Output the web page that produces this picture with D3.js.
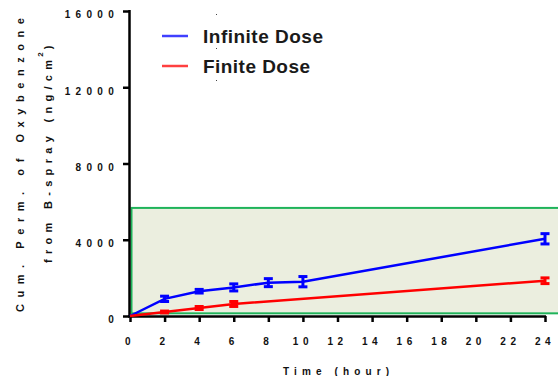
<!DOCTYPE html>
<html>
<head>
<meta charset="utf-8">
<script src="https://cdn.jsdelivr.net/npm/d3@7"></script>
<style>
  html, body { margin: 0; padding: 0; background: #fff; }
  svg { display: block; }
</style>
</head>
<body>
<svg id="chart" width="558" height="376"></svg>
<script>
// Cumulative permeation of oxybenzone from B-spray
const infTimes = [0, 2, 4, 6, 8, 10, 24];
const infValues = [0, 900, 1300, 1500, 1750, 1800, 4050];
const infErrors = [0, 140, 95, 185, 210, 270, 270];

const finTimes = [0, 2, 4, 6, 24];
const finValues = [0, 210, 420, 630, 1850];
const finErrors = [0, 50, 80, 130, 150];

const xTicks = [0, 2, 4, 6, 8, 10, 12, 14, 16, 18, 20, 22, 24];
const yTicks = [0, 4000, 8000, 12000, 16000];
const bandRange = [140, 5670];

const seriesNames = ["Infinite Dose", "Finite Dose"];
const seriesColors = ["#0000ff", "#ff0000"];

const W = 558, H = 376;
const margin = { left: 130, right: 13, top: 11, bottom: 60 };

const svg = d3.select("#chart");
const x = d3.scaleLinear().domain([0, 24]).range([margin.left, W - margin.right]);
const y = d3.scaleLinear().domain([0, 16000]).range([H - margin.bottom, margin.top]);

const font = "'Liberation Sans', Arial, sans-serif";

// shaded band
svg.append("rect")
  .attr("x", x(0) + 1.5)
  .attr("y", y(bandRange[1]))
  .attr("width", W - x(0) + 5)
  .attr("height", y(bandRange[0]) - y(bandRange[1]))
  .attr("fill", "#ebeedf")
  .attr("stroke", "#1fb35a")
  .attr("stroke-width", 2);

// axes
const xAxis = svg.append("g")
  .attr("transform", `translate(0,${y(0)})`)
  .call(d3.axisBottom(x).tickValues(xTicks).tickSize(6).tickFormat(""));
const yAxis = svg.append("g")
  .attr("transform", `translate(${x(0) - 1},0)`)
  .call(d3.axisLeft(y).tickValues(yTicks).tickSize(6).tickFormat(""));
[xAxis, yAxis].forEach(g => {
  g.selectAll("path.domain").attr("stroke", "#000").attr("stroke-width", 2.5);
  g.selectAll(".tick line").attr("stroke", "#000").attr("stroke-width", 2.5);
});
xAxis.select("path.domain").attr("d", `M${x(0) - 2},0.5H${x(24) + 1}`);
yAxis.select("path.domain").attr("d", `M0.5,${y(0) + 1}V${y(16000) - 1}`);

// tick labels
svg.append("g").selectAll("text").data(xTicks).join("text")
  .attr("x", d => x(d))
  .attr("y", y(0) + 29)
  .attr("text-anchor", "middle")
  .attr("font-family", font).attr("font-weight", "bold")
  .attr("font-size", 10).attr("letter-spacing", 4.5)
  .attr("fill", "#111")
  .text(d => d);

svg.append("g").selectAll("text").data(yTicks).join("text")
  .attr("x", x(0) - 11)
  .attr("y", d => y(d) + 7.3)
  .attr("text-anchor", "end")
  .attr("font-family", font).attr("font-weight", "bold")
  .attr("font-size", 10).attr("letter-spacing", 5.3)
  .attr("fill", "#111")
  .text(d => d);

// axis titles
svg.append("text")
  .attr("x", 283).attr("y", 375)
  .attr("font-family", font).attr("font-weight", "bold")
  .attr("font-size", 10)
  .attr("textLength", 106).attr("lengthAdjust", "spacing")
  .attr("fill", "#111")
  .text("Time (hour)");

svg.append("text")
  .attr("transform", "translate(24,312) rotate(-90)")
  .attr("font-family", font).attr("font-weight", "bold")
  .attr("font-size", 11)
  .attr("textLength", 294).attr("lengthAdjust", "spacing")
  .attr("fill", "#111")
  .text("Cum. Perm. of Oxybenzone");

const t2 = svg.append("text")
  .attr("transform", "translate(52,263) rotate(-90)")
  .attr("font-family", font).attr("font-weight", "bold")
  .attr("font-size", 11)
  .attr("fill", "#111");
t2.append("tspan").attr("letter-spacing", 5.3).text("from B-spray (ng/cm");
t2.append("tspan").attr("dy", -9).attr("font-size", 8).attr("dx", -2).text("2");
t2.append("tspan").attr("dy", 9).attr("dx", 3).text(")");

// series
const series = [
  { t: infTimes, v: infValues, e: infErrors, color: seriesColors[0] },
  { t: finTimes, v: finValues, e: finErrors, color: seriesColors[1] }
];
const line = d3.line().x(d => x(d.t)).y(d => y(d.v));

series.forEach(s => {
  const pts = s.t.map((t, i) => ({ t, v: s.v[i], e: s.e[i] }));
  svg.append("path")
    .datum(pts)
    .attr("d", line)
    .attr("fill", "none")
    .attr("stroke", s.color)
    .attr("stroke-width", 2.5);
  const bars = svg.append("g").selectAll("g").data(pts.filter(p => p.t > 0)).join("g")
    .attr("stroke", s.color).attr("stroke-width", 3).attr("fill", "none");
  const cw = 4.5;
  bars.append("line")
    .attr("x1", d => x(d.t)).attr("x2", d => x(d.t))
    .attr("y1", d => y(d.v - d.e)).attr("y2", d => y(d.v + d.e));
  bars.append("line")
    .attr("x1", d => x(d.t) - cw).attr("x2", d => x(d.t) + cw)
    .attr("y1", d => y(d.v - d.e)).attr("y2", d => y(d.v - d.e));
  bars.append("line")
    .attr("x1", d => x(d.t) - cw).attr("x2", d => x(d.t) + cw)
    .attr("y1", d => y(d.v + d.e)).attr("y2", d => y(d.v + d.e));
});

// legend
const legend = svg.append("g");
const legendRows = [{ y: 36, base: 43, len: 120 }, { y: 66, base: 72.5, len: 107 }];
seriesNames.forEach((name, i) => {
  legend.append("line")
    .attr("x1", 162).attr("x2", 188)
    .attr("y1", legendRows[i].y).attr("y2", legendRows[i].y)
    .attr("stroke", seriesColors[i]).attr("stroke-width", 2.5)
    .attr("stroke-opacity", 0.75);
  legend.append("text")
    .attr("x", 203).attr("y", legendRows[i].base)
    .attr("font-family", font)
    .attr("font-weight", "bold")
    .attr("font-size", 19)
    .attr("textLength", legendRows[i].len).attr("lengthAdjust", "spacing")
    .attr("fill", "#1a1a1a")
    .text(name);
});
// small marks above and between legend rows
[14, 48, 80].forEach(yy => {
  legend.append("rect").attr("x", 216).attr("y", yy).attr("width", 1).attr("height", 1).attr("fill", "#444");
});
</script>
</body>
</html>
